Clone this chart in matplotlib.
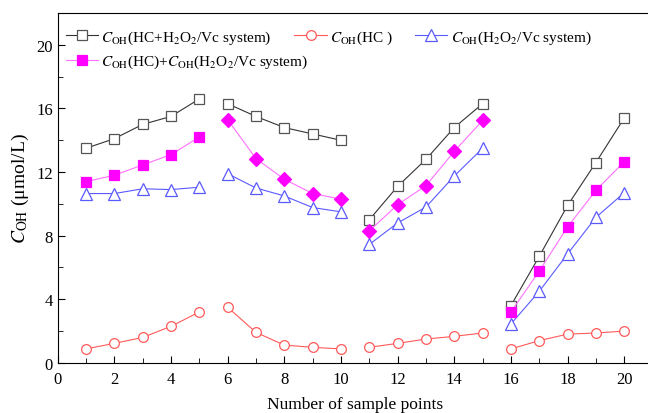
import numpy as np
import matplotlib.pyplot as plt
from matplotlib.ticker import MultipleLocator

plt.rcParams["font.family"] = ["Liberation Serif", "DejaVu Serif"]
plt.rcParams["mathtext.fontset"] = "stix"

sample_points = list(range(1, 21))

c_total = [13.5, 14.1, 15.0, 15.5, 16.6,
           16.3, 15.5, 14.8, 14.4, 14.0,
           9.0, 11.1, 12.8, 14.8, 16.3,
           3.6, 6.7, 9.9, 12.6, 15.4]
c_hc = [0.88, 1.23, 1.6, 2.3, 3.2,
        3.5, 1.92, 1.12, 0.98, 0.88,
        0.98, 1.23, 1.5, 1.67, 1.88,
        0.88, 1.4, 1.81, 1.88, 2.0]
c_vc = [10.65, 10.65, 10.95, 10.9, 11.05,
        11.9, 11.0, 10.5, 9.77, 9.5,
        7.45, 8.8, 9.8, 11.75, 13.5,
        2.45, 4.5, 6.85, 9.15, 10.7]
c_sum = [11.4, 11.8, 12.45, 13.1, 14.2,
         15.3, 12.85, 11.55, 10.65, 10.3,
         8.3, 9.95, 11.15, 13.3, 15.25,
         3.2, 5.77, 8.55, 10.85, 12.65]

segments = [(0, 5), (5, 10), (10, 15), (15, 20)]
sum_markers = ["s", "D", "D", "s"]

fig = plt.figure(figsize=(6.48, 4.14), dpi=100)
ax = fig.add_axes([0.089, 0.121, 0.918, 0.845])

x = np.array(sample_points)
h_total = h_hc = h_vc = h_sum = None
for i, (a, b) in enumerate(segments):
    h_total, = ax.plot(x[a:b], c_total[a:b], color="#333333", lw=0.8, marker="s",
                       ms=6.5, mfc="white", mec="#555555", mew=0.9)
    h_hc, = ax.plot(x[a:b], c_hc[a:b], color="#ff5a5a", lw=0.8, marker="o",
                    ms=7, mfc="white", mec="#ff5a5a", mew=0.9)
    h_vc, = ax.plot(x[a:b], c_vc[a:b], color="#5a5aff", lw=0.8, marker="^",
                    ms=8, mfc="white", mec="#5a5aff", mew=0.9)
    ms = 6.5 if sum_markers[i] == "s" else 7
    line, = ax.plot(x[a:b], c_sum[a:b], color="#ff70ff", lw=0.8,
                    marker=sum_markers[i], ms=ms, mfc="#ff00ff",
                    mec="#ff00ff", mew=0.9)
    if i == 0:
        h_sum = line

ax.set_xlim(0, 21)
ax.set_ylim(0, 22)
ax.xaxis.set_major_locator(MultipleLocator(2))
ax.xaxis.set_minor_locator(MultipleLocator(1))
ax.yaxis.set_major_locator(MultipleLocator(4))
ax.yaxis.set_minor_locator(MultipleLocator(2))
ax.tick_params(which="both", direction="in", labelsize=12)
ax.tick_params(which="major", length=5)
ax.tick_params(which="minor", length=3.5)
ax.tick_params(axis="x", pad=6)
ax.tick_params(top=False, right=False)

ax.set_xlabel("Number of sample points", fontsize=12.5, labelpad=6)
ax.set_ylabel(r"$C_{\rm OH}$ (μmol/L)", fontsize=14)

leg_kw = dict(frameon=False, fontsize=11, loc="center left", handlelength=2.1,
              handletextpad=0.2, borderpad=0, borderaxespad=0)
leg1 = ax.legend([h_total, h_hc, h_vc],
                 [r"$C_{\rm OH}$(HC+H$_2$O$_2$/Vc system)",
                  r"$C_{\rm OH}$(HC )",
                  r"$C_{\rm OH}$(H$_2$O$_2$/Vc system)"],
                 ncol=3, columnspacing=1.5, bbox_to_anchor=(0.014, 0.932),
                 **leg_kw)
ax.add_artist(leg1)
ax.legend([h_sum], [r"$C_{\rm OH}$(HC)+$C_{\rm OH}$(H$_2$O$_2$/Vc system)"],
          bbox_to_anchor=(0.014, 0.862), **leg_kw)

fig.savefig("out.png", dpi=100)
